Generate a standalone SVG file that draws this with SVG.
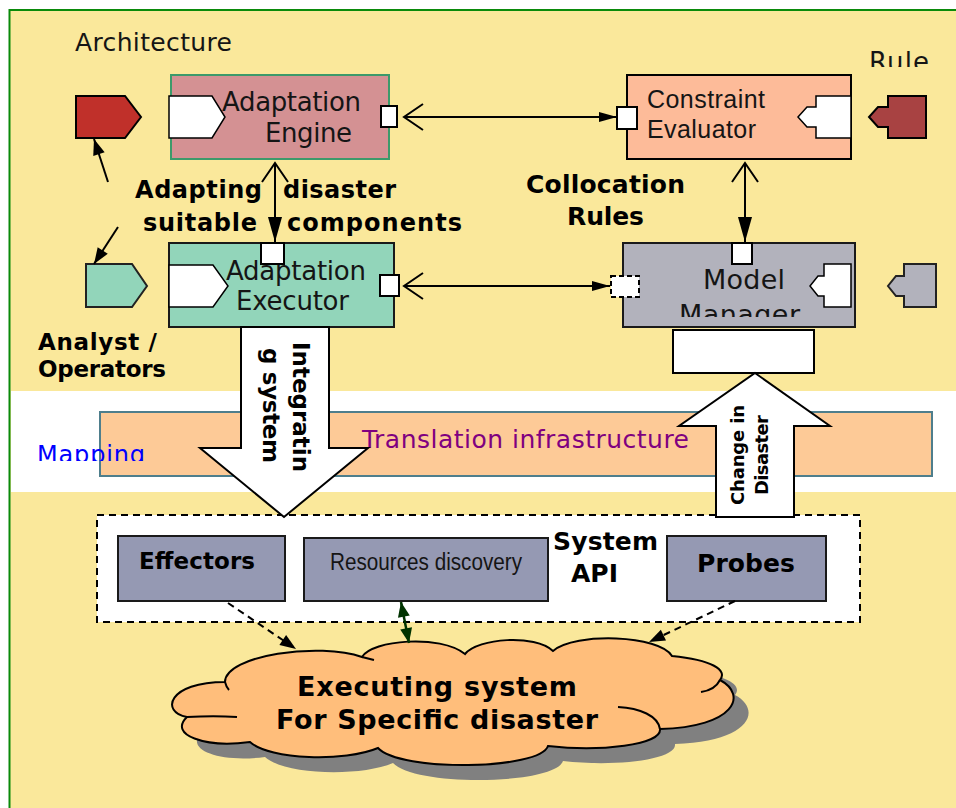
<svg xmlns="http://www.w3.org/2000/svg" width="956" height="808" viewBox="0 0 956 808">
<style>
.v{font-family:"DejaVu Sans",Verdana,sans-serif;fill:#151515}
.b{font-family:"DejaVu Sans",Verdana,sans-serif;font-weight:bold;fill:#000}
.a{font-family:"Liberation Sans",Arial,sans-serif;fill:#151515}
.ln{stroke:#000;stroke-width:2;fill:none}
.dl{stroke:#000;stroke-width:2;fill:none;stroke-dasharray:7,5}
.port{fill:#fff;stroke:#000;stroke-width:2}
.box{stroke:#1a1a1a;stroke-width:2}
.wp{fill:#fff;stroke:#000;stroke-width:1.5}
</style>
<defs>
<marker id="open" markerUnits="userSpaceOnUse" viewBox="-21 -15 23 30" markerWidth="23" markerHeight="30" refX="0" refY="0" orient="auto-start-reverse">
<path d="M-19,-13 L0,0 L-19,13" fill="none" stroke="#000" stroke-width="2"/>
</marker>
<marker id="fs" markerUnits="userSpaceOnUse" viewBox="-19 -6 20 12" markerWidth="20" markerHeight="12" refX="0" refY="0" orient="auto">
<path d="M-18,-5 L0,0 L-18,5 Z" fill="#000"/>
</marker>
<marker id="fl" markerUnits="userSpaceOnUse" viewBox="-26 -8 27 16" markerWidth="27" markerHeight="16" refX="0" refY="0" orient="auto">
<path d="M-25,-7 L0,0 L-25,7 Z" fill="#000"/>
</marker>
<marker id="fm" markerUnits="userSpaceOnUse" viewBox="-17 -7 18 14" markerWidth="18" markerHeight="14" refX="0" refY="0" orient="auto">
<path d="M-16,-6 L0,0 L-16,6 Z" fill="#000"/>
</marker>
<marker id="gh" markerUnits="userSpaceOnUse" viewBox="-16 -7 17 14" markerWidth="17" markerHeight="14" refX="0" refY="0" orient="auto-start-reverse">
<path d="M-15,-6 L0,0 L-15,6 Z" fill="#003300"/>
</marker>
<clipPath id="cRule"><rect x="855" y="30" width="101" height="37"/></clipPath>
<clipPath id="cMap"><rect x="30" y="430" width="130" height="31"/></clipPath>
<clipPath id="cMM"><rect x="640" y="255" width="180" height="62"/></clipPath>
<path id="cloudPath" d="M187,717 C160,712 168,682 225,682 C225,655 320,642 362,657 C372,640 440,634 465,654 C478,638 535,634 553,651 C575,632 660,635 672,656 C712,660 728,670 720,680 C748,695 735,727 660,729 C662,745 600,752 548,746 C540,770 400,772 378,748 C345,762 270,760 250,742 C205,748 168,735 187,717 Z"/>
</defs>

<g id="background">
<rect x="9.5" y="10" width="960" height="810" fill="#FAE89B" stroke="#0A8A0A" stroke-width="2"/>
<rect x="11" y="391" width="946" height="101" fill="#FFFFFF"/>
</g>

<g id="translation-infrastructure">
<rect x="100" y="412" width="832" height="64" fill="#FDCA97" stroke="#4E7E8C" stroke-width="2"/>
<text class="v" x="362" y="448" font-size="25" textLength="327" style="fill:#800080">Translation infrastructure</text>
</g>

<g id="label-mapping" clip-path="url(#cMap)">
<text class="v" x="37" y="463" font-size="24" textLength="108" style="fill:#0000FF">Mapping</text>
</g>

<g id="label-architecture">
<text class="v" x="75" y="51" font-size="25" textLength="157">Architecture</text>
</g>

<g id="label-rule" clip-path="url(#cRule)">
<text class="v" x="869" y="71" font-size="26" textLength="60">Rule</text>
</g>

<g id="architecture-port">
<polygon points="76,96 125,96 141,117 125,138 76,138" fill="#C0302A" stroke="#000" stroke-width="2"/>
</g>

<g id="adaptation-engine">
<rect x="171" y="75" width="218" height="84" fill="#D49193" stroke="#3C9A6A" stroke-width="2"/>
<polygon class="wp" points="169,96 212,96 225,117 212,138 169,138"/>
<text class="v" x="222" y="111" font-size="26" textLength="139">Adaptation</text>
<text class="v" x="265" y="142" font-size="26" textLength="87">Engine</text>
<rect class="port" x="381" y="106" width="16" height="21"/>
</g>

<g id="constraint-evaluator">
<rect class="box" x="627" y="75" width="224" height="84" fill="#FDBB99" style="stroke:#000"/>
<polygon class="wp" points="816,96 851,96 851,138 816,138 816,127 807,127 798,117 807,107 816,107"/>
<text class="a" x="647" y="108" font-size="25" textLength="118">Constraint</text>
<text class="a" x="647" y="138" font-size="25" textLength="109">Evaluator</text>
<rect class="port" x="617" y="107" width="20" height="22"/>
</g>

<g id="rule-port">
<polygon points="888,96 926,96 926,138 888,138 888,127 878,127 869,117 878,107 888,107" fill="#A84242" stroke="#000" stroke-width="2"/>
</g>

<g id="analyst-port">
<polygon points="86,264 132,264 147,286 132,307 86,307" fill="#92D5BA" stroke="#222" stroke-width="2"/>
</g>

<g id="adaptation-executor">
<rect class="box" x="169" y="243" width="225" height="84" fill="#92D5BA"/>
<polygon class="wp" points="169,265 213,265 228,286 213,307 169,307"/>
<text class="v" x="226" y="280" font-size="26" textLength="140">Adaptation</text>
<text class="v" x="236" y="310" font-size="26" textLength="113">Executor</text>
<rect class="port" x="261" y="243" width="23" height="21"/>
<rect class="port" x="380" y="275" width="19" height="21"/>
</g>

<g id="model-manager">
<rect class="box" x="623" y="243" width="232" height="84" fill="#B2B2BC"/>
<polygon class="wp" points="824,264 851,264 851,307 824,307 824,296 818,296 810,286 818,276 824,276"/>
<g clip-path="url(#cMM)">
<text class="v" x="703" y="289" font-size="27" textLength="82">Model</text>
<text class="v" x="679" y="324" font-size="27" textLength="121">Manager</text>
</g>
<rect class="port" x="732" y="243" width="20" height="21"/>
<rect x="611" y="276" width="28" height="21" fill="#fff" stroke="#000" stroke-width="2" stroke-dasharray="5,3"/>
</g>

<g id="model-port">
<polygon points="904,264 936,264 936,307 904,307 904,296 896,296 888,286 896,276 904,276" fill="#B2B2BC" stroke="#222" stroke-width="2"/>
</g>

<g id="model-box">
<rect x="673" y="330" width="141" height="43" fill="#fff" stroke="#000" stroke-width="2"/>
</g>

<g id="labels">
<text class="b" font-size="24" y="198"><tspan x="135" textLength="127">Adapting</tspan><tspan x="283" textLength="113">disaster</tspan></text>
<text class="b" font-size="24" y="231"><tspan x="143" textLength="114">suitable</tspan><tspan x="287" textLength="175">components</tspan></text>
<text class="b" font-size="25" x="526" y="193" textLength="159">Collocation</text>
<text class="b" font-size="25" x="567" y="225" textLength="77">Rules</text>
<text class="b" font-size="23" x="38" y="350" textLength="119">Analyst /</text>
<text class="b" font-size="23" x="38" y="377" textLength="128">Operators</text>
</g>

<g id="system-api">
<rect x="97" y="515" width="763" height="107" fill="#fff" stroke="#000" stroke-width="2" stroke-dasharray="7,5"/>
<text class="b" font-size="25" x="553" y="550" textLength="105">System</text>
<text class="b" font-size="25" x="571" y="582" textLength="47">API</text>
</g>

<g id="effectors">
<rect class="box" x="118" y="536" width="167" height="65" fill="#9599B3"/>
<text class="b" font-size="23" x="139" y="569" textLength="116">Effectors</text>
</g>

<g id="resources-discovery">
<rect class="box" x="304" y="538" width="244" height="63" fill="#9599B3"/>
<text class="a" font-size="23" x="330" y="570" textLength="192" lengthAdjust="spacingAndGlyphs">Resources discovery</text>
</g>

<g id="probes">
<rect class="box" x="667" y="536" width="159" height="65" fill="#9599B3"/>
<text class="b" font-size="25" x="697" y="572" textLength="98">Probes</text>
</g>

<g id="integrating-arrow">
<polygon points="241,327 329,327 329,448 368,448 284,517 200,448 241,448" fill="#fff" stroke="#000" stroke-width="2" stroke-linejoin="miter"/>
<text class="b" font-size="23" transform="translate(293,342) rotate(90)" textLength="130">Integratin</text>
<text class="b" font-size="23" transform="translate(263,348) rotate(90)" textLength="115">g system</text>
</g>

<g id="change-arrow">
<polygon points="755,373 830,426 794,426 794,517 716,517 716,426 679,426" fill="#fff" stroke="#000" stroke-width="2"/>
<text class="b" font-size="18" transform="translate(744,505) rotate(-90)" textLength="100">Change in</text>
<text class="b" font-size="18" transform="translate(768,495) rotate(-90)" textLength="80">Disaster</text>
</g>

<g id="cloud">
<use href="#cloudPath" transform="translate(15,15)" fill="#808080"/>
<use href="#cloudPath" fill="#FFBE7B" stroke="#000" stroke-width="2"/>
<path class="ln" d="M187,717 C205,716 222,716 237,717 M720,680 C716,688 708,691 701,692 M618,707 C640,708 658,716 660,729 M225,682 C226,686 227,688 229,690 M362,657 C366,658 370,659 374,660"/>
<text class="b" font-size="27" x="297" y="696" textLength="280">Executing system</text>
<text class="b" font-size="27" x="276" y="729" textLength="322">For Specific disaster</text>
</g>

<g id="connectors">
<line class="ln" x1="404" y1="117" x2="617" y2="117" marker-start="url(#open)" marker-end="url(#fs)"/>
<line class="ln" x1="404" y1="286" x2="610" y2="286" marker-start="url(#open)" marker-end="url(#fs)"/>
<line class="ln" x1="275" y1="163" x2="275" y2="242" marker-start="url(#open)" marker-end="url(#fl)"/>
<line class="ln" x1="745" y1="163" x2="745" y2="242" marker-start="url(#open)" marker-end="url(#fl)"/>
<line class="ln" x1="108" y1="182" x2="94" y2="139" marker-end="url(#fm)"/>
<line class="ln" x1="118" y1="227" x2="94" y2="264" marker-end="url(#fm)"/>
<line class="dl" x1="228" y1="603" x2="296" y2="649" marker-end="url(#fm)"/>
<line class="dl" x1="735" y1="601" x2="649" y2="642" marker-end="url(#fm)"/>
<line x1="401" y1="602" x2="409" y2="643" stroke="#003300" stroke-width="2.5" marker-start="url(#gh)" marker-end="url(#gh)"/>
</g>
</svg>
